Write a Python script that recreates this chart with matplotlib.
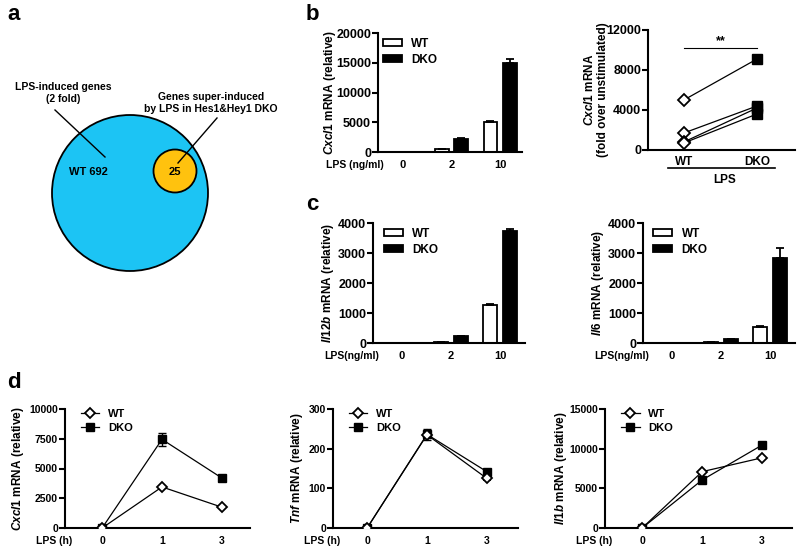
import numpy as np
import matplotlib
matplotlib.use("Agg")
import matplotlib.pyplot as plt
from matplotlib.patches import Circle
from matplotlib.lines import Line2D

plt.rcParams['font.family'] = ['Liberation Sans', 'DejaVu Sans']
plt.rcParams['font.weight'] = 'bold'
plt.rcParams['axes.labelweight'] = 'bold'
plt.rcParams['mathtext.fontset'] = 'custom'
plt.rcParams['mathtext.it'] = 'Liberation Sans:italic:bold'
plt.rcParams['mathtext.rm'] = 'Liberation Sans:bold'
plt.rcParams['axes.linewidth'] = 1.5

# ---- data ----
venn_counts = [692, 25]

dose_labels = ['0', '2', '10']
cxcl1_wt = [0, 480, 5050]
cxcl1_wt_err = [0, 60, 120]
cxcl1_dko = [0, 2250, 14900]
cxcl1_dko_err = [0, 80, 650]

pair_wt = [5000, 1700, 800, 700]
pair_dko = [9100, 4400, 4200, 3600]

il12b_wt = [0, 35, 1260]
il12b_wt_err = [0, 10, 50]
il12b_dko = [0, 230, 3730]
il12b_dko_err = [0, 15, 60]

il6_wt = [0, 40, 520]
il6_wt_err = [0, 8, 50]
il6_dko = [0, 130, 2830]
il6_dko_err = [0, 15, 350]

time_labels = ['0', '1', '3']
tc_cxcl1_wt = [0, 3450, 1750]
tc_cxcl1_wt_err = [0, 120, 80]
tc_cxcl1_dko = [0, 7450, 4200]
tc_cxcl1_dko_err = [0, 550, 250]
tc_tnf_wt = [0, 235, 125]
tc_tnf_wt_err = [0, 8, 5]
tc_tnf_dko = [0, 236, 142]
tc_tnf_dko_err = [0, 14, 6]
tc_il1b_wt = [0, 7100, 8850]
tc_il1b_dko = [0, 6050, 10450]

W, H = 800, 553
fig = plt.figure(figsize=(8, 5.53), dpi=100)


def px_axes(x0, x1, y0, y1):
    return fig.add_axes([x0 / W, 1 - y1 / H, (x1 - x0) / W, (y1 - y0) / H])


def mlabel(gene, rest):
    return r'$\mathit{%s}\ \mathrm{%s}$' % (gene, rest.replace(' ', r'\ '))


def style(ax, ylim, yticks, ysize, xsize):
    ax.spines['top'].set_visible(False)
    ax.spines['right'].set_visible(False)
    ax.set_ylim(*ylim)
    ax.set_yticks(yticks)
    ax.tick_params(axis='y', length=4, width=1.5, labelsize=ysize, pad=1)
    ax.tick_params(axis='x', length=0, labelsize=xsize, pad=6)


def bar_panel(ax, wt, wt_err, dko, dko_err, ylim, yticks, ylabel, xname, xlim, lab_x, leg_x):
    x = np.arange(len(dose_labels))
    w, off = 0.28, 0.2
    b1 = ax.bar(x - off, wt, w, color='white', edgecolor='black', linewidth=1.3, label='WT')
    b2 = ax.bar(x + off, dko, w, color='black', edgecolor='black', linewidth=1.3, label='DKO')
    ax.errorbar(x - off, wt, yerr=[np.zeros(3), wt_err], fmt='none', ecolor='black',
                elinewidth=1.3, capsize=3, capthick=1.3)
    ax.errorbar(x + off, dko, yerr=[np.zeros(3), dko_err], fmt='none', ecolor='black',
                elinewidth=1.3, capsize=3, capthick=1.3)
    style(ax, ylim, yticks, 9, 8)
    ax.set_xlim(*xlim)
    ax.set_xticks(x)
    ax.set_xticklabels(dose_labels)
    ax.set_ylabel(ylabel, fontsize=8.5)
    ax.yaxis.set_label_coords(lab_x, 0.5)
    ax.text(0.04, -0.065, xname, transform=ax.transAxes, ha='right', va='top', fontsize=7.5)
    ax.legend(handles=[b1, b2], loc='upper left', bbox_to_anchor=(leg_x, 1.0), frameon=False,
              fontsize=8.5, handlelength=1.6, handleheight=0.6, labelspacing=0.35, borderaxespad=0)


def line_panel(ax, wt, wt_err, dko, dko_err, ylim, yticks, ylabel, xlim, lab_x):
    x = np.arange(len(time_labels))
    ax.errorbar(x, dko, yerr=dko_err, color='black', marker='s', ms=6, mfc='black', mec='black',
                lw=0.9, elinewidth=1.0, capsize=3, capthick=1.0, zorder=3)
    ax.errorbar(x, wt, yerr=wt_err, color='black', marker='D', ms=5.5, mfc='white', mec='black',
                mew=1.3, lw=0.9, elinewidth=1.0, capsize=3, capthick=1.0, zorder=4)
    style(ax, ylim, yticks, 7.5, 7.5)
    ax.set_xlim(*xlim)
    ax.set_xticks(x)
    ax.set_xticklabels(time_labels)
    ax.set_ylabel(ylabel, fontsize=8.5)
    ax.yaxis.set_label_coords(lab_x, 0.5)
    ax.text(0.04, -0.065, 'LPS (h)', transform=ax.transAxes, ha='right', va='top', fontsize=7.5)
    h1 = Line2D([], [], color='black', lw=0.9, marker='D', ms=5.5, mfc='white', mec='black', mew=1.3)
    h2 = Line2D([], [], color='black', lw=0.9, marker='s', ms=6, mfc='black')
    ax.legend([h1, h2], ['WT', 'DKO'], loc='upper left', bbox_to_anchor=(0.06, 1.04), frameon=False,
              fontsize=8, handlelength=1.7, labelspacing=0.35, borderaxespad=0)


# ---- panel a: venn ----
va = fig.add_axes([0, 0, 1, 1])
va.set_xlim(0, W)
va.set_ylim(H, 0)
va.axis('off')
va.add_patch(Circle((130, 193), 78, facecolor='#1cc4f4', edgecolor='black', lw=1.3))
va.add_patch(Circle((175, 171), 21.5, facecolor='#ffc20e', edgecolor='black', lw=1.3))
va.text(88, 172, 'WT %d' % venn_counts[0], ha='center', va='center', fontsize=8)
va.text(175, 172, '%d' % venn_counts[1], ha='center', va='center', fontsize=8)
va.text(63, 93, 'LPS-induced genes\n(2 fold)', ha='center', va='center', fontsize=7.5,
        linespacing=1.15)
va.plot([55, 105], [110, 157], color='black', lw=1)
va.text(211, 103, 'Genes super-induced\nby LPS in Hes1&Hey1 DKO', ha='center', va='center',
        fontsize=7.5, linespacing=1.15)
va.plot([217, 178], [118, 163], color='black', lw=1)
for lab, (x, y) in zip('abcd', [(14, 15), (312, 15), (312, 205), (14, 383)]):
    va.text(x, y, lab, ha='center', va='center', fontsize=16, fontweight='bold')

# ---- panel b ----
ax = px_axes(378, 522, 33, 152)
bar_panel(ax, cxcl1_wt, cxcl1_wt_err, cxcl1_dko, cxcl1_dko_err, (0, 20000),
          [0, 5000, 10000, 15000, 20000], mlabel('Cxcl1', 'mRNA (relative)'), 'LPS (ng/ml)',
          (-0.51, 2.45), -0.28, 0.0)

ax = px_axes(648, 795, 30, 150)
for a, b in zip(pair_wt, pair_dko):
    ax.plot([0, 1], [a, b], color='black', lw=0.9)
ax.plot(np.zeros(len(pair_wt)), pair_wt, 'D', ms=6, mfc='white', mec='black', mew=1.3, ls='none')
ax.plot(np.ones(len(pair_dko)), pair_dko, 's', ms=6.5, mfc='black', mec='black', ls='none')
style(ax, (0, 12000), [0, 4000, 8000, 12000], 9, 8)
ax.set_xlim(-0.49, 1.52)
ax.set_xticks([0, 1])
ax.set_xticklabels(['WT', 'DKO'], fontsize=8.5)
ax.tick_params(axis='x', pad=4)
ax.set_ylabel(mlabel('Cxcl1', 'mRNA') + '\n(fold over unstimulated)', fontsize=8.5,
              linespacing=1.1)
ax.yaxis.set_label_coords(-0.265, 0.5)
ax.plot([0, 1], [10200, 10200], color='black', lw=0.8)
ax.text(0.5, 10300, '**', ha='center', va='bottom', fontsize=9)
ax.plot([-0.21, 1.25], [-0.15, -0.15], color='black', lw=1.2, transform=ax.get_xaxis_transform(),
        clip_on=False)
ax.text(0.52, -0.2, 'LPS', transform=ax.transAxes, ha='center', va='top', fontsize=8.5)

# ---- panel c ----
ax = px_axes(373, 525, 223, 343)
bar_panel(ax, il12b_wt, il12b_wt_err, il12b_dko, il12b_dko_err, (0, 4000),
          [0, 1000, 2000, 3000, 4000], mlabel('Il12b', 'mRNA (relative)'), 'LPS(ng/ml)',
          (-0.59, 2.51), -0.243, 0.04)

ax = px_axes(643, 795, 223, 343)
bar_panel(ax, il6_wt, il6_wt_err, il6_dko, il6_dko_err, (0, 4000),
          [0, 1000, 2000, 3000, 4000], mlabel('Il6', 'mRNA (relative)'), 'LPS(ng/ml)',
          (-0.59, 2.51), -0.243, 0.036)

# ---- panel d ----
ax = px_axes(65, 250, 409, 528)
line_panel(ax, tc_cxcl1_wt, tc_cxcl1_wt_err, tc_cxcl1_dko, tc_cxcl1_dko_err, (0, 10000),
           [0, 2500, 5000, 7500, 10000], mlabel('Cxcl1', 'mRNA (relative)'), (-0.62, 2.47), -0.21)

ax = px_axes(333, 518, 409, 528)
line_panel(ax, tc_tnf_wt, tc_tnf_wt_err, tc_tnf_dko, tc_tnf_dko_err, (0, 300),
           [0, 100, 200, 300], mlabel('Tnf', 'mRNA (relative)'), (-0.57, 2.52), -0.15)

ax = px_axes(605, 792, 409, 528)
line_panel(ax, tc_il1b_wt, None, tc_il1b_dko, None, (0, 15000),
           [0, 5000, 10000, 15000], mlabel('Il1b', 'mRNA (relative)'), (-0.62, 2.5), -0.19)

fig.savefig('out.png', dpi=100)
